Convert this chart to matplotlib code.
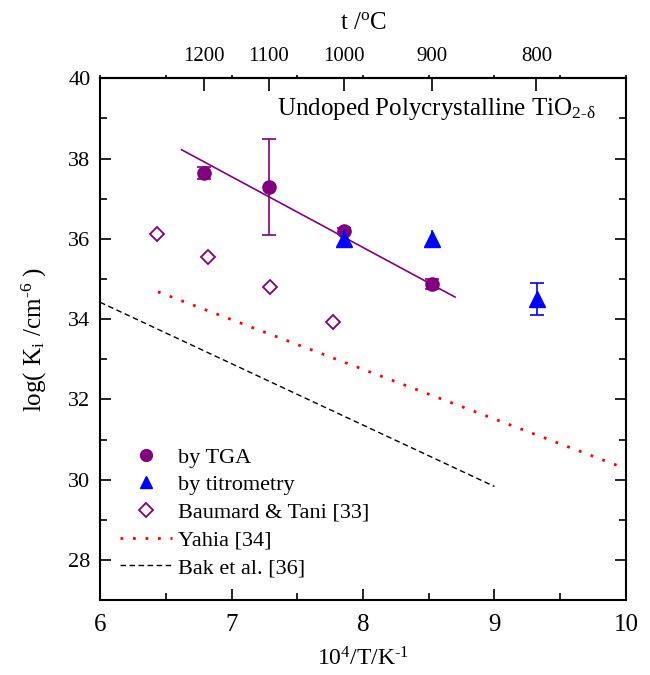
import matplotlib
matplotlib.use("Agg")
import matplotlib.pyplot as plt
from matplotlib.ticker import MultipleLocator, FixedLocator
from matplotlib.lines import Line2D

plt.rcParams['font.family'] = ['Liberation Serif', 'DejaVu Serif']
plt.rcParams['mathtext.fontset'] = 'custom'
plt.rcParams['mathtext.rm'] = 'Liberation Serif'
plt.rcParams['mathtext.it'] = 'Liberation Serif:italic'

# Data
tga_x = [6.79, 7.283, 7.855, 8.525]
tga_y = [37.65, 37.30, 36.20, 34.87]
tga_err = [0.15, 1.2, 0.08, 0.12]

titr_x = [7.855, 8.525]
titr_y = [36.00, 36.00]
titr_err = [0.23, 0.23]
titr2_x = [9.32]
titr2_y = [34.50]
titr2_err = [0.4]

baum_x = [6.43, 6.82, 7.29, 7.77]
baum_y = [36.12, 35.55, 34.80, 33.93]

fit_x = [6.62, 8.70]
fit_y = [38.22, 34.55]

yahia_x = [6.44, 10.1]
yahia_y = [34.68, 30.15]

bak_x = [6.0, 9.0]
bak_y = [34.42, 29.83]

temps_c = [1200, 1100, 1000, 900, 800]

purple = '#800080'
fig = plt.figure(figsize=(6.5, 6.75), dpi=100)
ax = fig.add_axes([0.154, 0.111, 0.809, 0.773])

ax.plot(fit_x, fit_y, color=purple, lw=1.2)
ax.plot(yahia_x, yahia_y, color='red', lw=2.0, linestyle=(0, (1, 3.5)))
ax.plot(bak_x, bak_y, color='black', lw=1.0, linestyle=(0, (4, 2.5)))

ax.errorbar(tga_x, tga_y, yerr=tga_err, fmt='o', color=purple, ms=9.5,
            capsize=5, elinewidth=1.2, capthick=1.2, zorder=4)
ax.errorbar(titr_x, titr_y, yerr=titr_err, fmt='^', color='blue', ms=11,
            capsize=0, elinewidth=1.2, zorder=5)
ax.errorbar(titr2_x, titr2_y, yerr=titr2_err, fmt='^', color='blue', ms=11,
            capsize=5, elinewidth=1.2, capthick=1.2, zorder=5)
ax.plot(baum_x, baum_y, 'D', mfc='white', mec=purple, mew=1.3, ms=7.5,
        linestyle='none')

ax.set_xlim(6, 10)
ax.set_ylim(27, 40)
ax.xaxis.set_major_locator(MultipleLocator(1))
ax.xaxis.set_minor_locator(MultipleLocator(0.5))
ax.yaxis.set_major_locator(MultipleLocator(2))
ax.yaxis.set_minor_locator(MultipleLocator(1))
ax.tick_params(which='both', direction='in', right=True, top=False, width=1.2)
ax.tick_params(which='major', length=8)
ax.tick_params(which='minor', length=5)
ax.tick_params(axis='x', labelsize=18, pad=10)
ax.tick_params(axis='y', labelsize=16, pad=7)
for s in ax.spines.values():
    s.set_linewidth(1.5)

ax.set_xlabel(r'10$^{4}$/T/K$^{\text{-1}}$', fontsize=17, labelpad=8)
ax.set_ylabel(r'log( K$_{\mathrm{i}}$ /cm$^{\text{-6}}$ )', fontsize=18, labelpad=14)

# small outward ticks on top spine at the bottom-axis positions
top = ax.secondary_xaxis('top')
top.xaxis.set_major_locator(MultipleLocator(0.5))
top.tick_params(direction='out', length=2.5, width=1.2, labeltop=False)
top.spines['top'].set_visible(False)

sec = ax.secondary_xaxis('top', functions=(lambda x: x, lambda x: x))
sec.xaxis.set_major_locator(FixedLocator([1e4 / (t + 273.15) for t in temps_c]))
sec.set_xticklabels([str(t) for t in temps_c])
sec.tick_params(direction='in', length=9, labelsize=15, width=1.2, pad=9)
sec.set_xlabel(r't /$^{\mathrm{o}}$C', fontsize=18, labelpad=13)
sec.spines['top'].set_linewidth(1.5)

ax.text(0.943, 0.942, r'Undoped Polycrystalline TiO$_{\text{2-δ}}$', transform=ax.transAxes,
        ha='right', va='center', fontsize=18)

handles = [
    Line2D([], [], marker='o', color=purple, ls='none', ms=8.5),
    Line2D([], [], marker='^', color='blue', ls='none', ms=9),
    Line2D([], [], marker='D', mfc='white', mec=purple, mew=1.3, ls='none', ms=7),
    Line2D([], [], color='red', lw=2.0, linestyle=(0, (1, 3.5))),
    Line2D([], [], color='black', lw=1.0, linestyle=(0, (4, 2.5))),
]
labels = ['by TGA', 'by titrometry', 'Baumard & Tani [33]', 'Yahia [34]', 'Bak et al. [36]']
leg = ax.legend(handles, labels, loc='lower left',
                bbox_to_anchor=(0.008, 0.012), frameon=False, fontsize=16,
                handlelength=2.35, handletextpad=0.25, labelspacing=0.32,
                borderaxespad=0.3)

fig.savefig('out.png', dpi=100)
